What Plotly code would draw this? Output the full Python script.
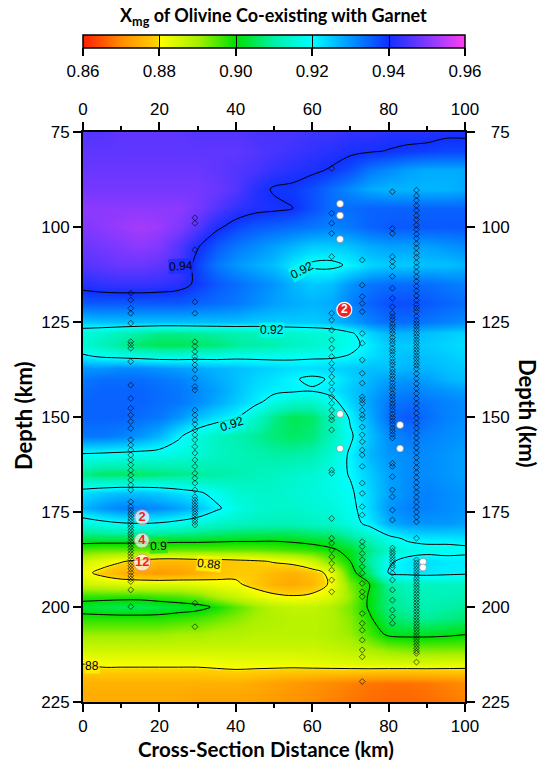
import numpy as np
import plotly.graph_objects as go

# ---------------- data ----------------
dist_km = [0, 5, 10, 15, 20, 25, 30, 35, 40, 45, 50, 55, 60, 65, 70, 75, 80, 85, 90, 95, 100]
depth_km = [75, 80, 85, 90, 95, 100, 105, 110, 115, 120, 125, 128, 131, 134, 137, 140, 143, 146,
            150, 155, 160, 165, 170, 174, 178, 182, 185, 188, 191, 194, 197, 200, 203, 207, 211,
            215, 220, 225]
# Xmg of olivine, per-mille (rows = depth, cols = distance)
xmg_permil = [
    [946, 946, 947, 947, 947, 947, 946, 946, 946, 945, 945, 945, 944, 944, 943, 943, 942, 942, 942, 941, 941],
    [947, 947, 947, 947, 947, 947, 947, 947, 947, 946, 945, 944, 943, 942, 941, 940.5, 939.8, 939, 938.5, 938, 938],
    [948, 948, 948, 948, 948, 948, 948, 947, 946, 945, 943, 942, 941, 939.5, 937, 933, 931, 929, 928, 928, 928],
    [949, 949, 949, 949, 949, 949, 949, 948, 946, 942, 939.5, 939, 937, 934, 931, 928, 927, 927, 927, 927, 928],
    [951, 951, 951, 951, 951, 951, 949, 946, 943, 941.5, 941, 940, 937, 934, 934, 935, 935, 935, 935, 935, 935],
    [950, 951, 952, 953, 952, 950, 946, 941, 938, 936, 935, 934, 933, 932, 933, 935, 936, 936, 936, 936, 936],
    [948, 949, 950, 951, 950, 946, 940.5, 936, 933, 931, 929, 927, 925, 925, 926, 928, 929, 929, 929, 930, 931],
    [946, 947, 948, 948, 947, 945, 938, 933, 930, 928, 926, 922, 919, 918.5, 921, 924, 925, 925, 926, 926, 927],
    [942, 943, 943.5, 943.5, 943, 942, 939, 936, 934, 932, 930, 927, 925, 926, 930, 933, 934, 934, 934, 933, 932],
    [936, 936, 936, 936, 936, 936, 935, 934, 933, 931, 929, 928, 927, 928, 932, 935, 937, 937, 936, 935, 934],
    [925, 926, 926, 926, 926, 926, 926, 926, 926, 925, 925, 925, 925, 926, 929, 932, 934, 934, 933, 932, 931],
    [916, 914, 912, 910, 908, 908, 909, 910, 911, 912, 913, 914, 915, 916, 919, 924, 927, 927, 926, 925, 924],
    [915, 912, 909, 906, 905, 905, 906, 907, 909, 910, 911, 913, 914, 916, 918, 922, 925, 925, 925, 924, 923],
    [921, 919, 918, 917, 916, 916, 917, 917, 918, 918, 918, 918.5, 919, 919, 920.5, 923, 925, 926, 926, 925, 924],
    [930, 930, 931, 931, 930, 929, 928, 927, 926, 925, 924, 923, 923, 924, 925, 926, 926, 927, 927, 926, 925],
    [933, 934, 934, 934, 933, 932, 930, 928, 926, 924, 922.5, 920.5, 919, 920.5, 924, 927, 929, 930, 929, 927, 926],
    [934, 935, 935, 935, 934, 933, 931, 929, 926, 923, 921.5, 921, 920.5, 922, 925, 928, 931, 932, 931, 930, 929],
    [935, 935, 935, 935, 934, 933, 931, 928, 925, 922, 917, 914, 914, 918, 924, 929, 933, 934, 933, 932, 931],
    [935, 935, 935, 934, 933, 930, 926, 923, 920.5, 914, 908, 905, 906, 912, 921, 928, 934, 936, 934, 932, 931],
    [933, 933, 932, 930, 927, 921, 916, 913, 911, 909, 907, 906, 907, 912, 919, 926, 931, 933, 932, 931, 930],
    [919, 918.5, 918, 917.5, 917, 916, 915, 913, 912, 911, 910, 910, 911, 915, 921, 927, 930, 931, 931, 930, 929],
    [908, 906, 906, 906, 907, 908, 909, 910, 911, 912, 913, 914, 915, 917, 920.5, 925, 929, 931, 931, 930, 929],
    [923, 925, 926, 926, 925, 923, 921, 918, 915, 914, 914, 915, 916, 917, 919, 924, 929, 931, 932, 931, 930],
    [927, 930, 932, 932, 931, 929, 926, 921, 917, 915, 914, 914, 915, 916, 918, 924, 930, 932, 932, 931, 930],
    [916, 918, 919.5, 920, 919.5, 918, 916, 914, 913, 912, 912, 912, 913, 914, 917, 922, 928, 930, 930, 930, 929],
    [904, 904, 904, 904, 903.5, 903, 903, 902.5, 902, 902, 901.5, 902, 903, 904, 908, 912, 918, 921, 922, 922, 922.5],
    [895, 894, 894, 894, 894, 894, 894, 894, 894, 894, 895, 896, 897, 899, 902, 908, 914, 917, 918, 918, 918.5],
    [886, 883, 880.5, 878, 876, 876, 877, 877, 878, 879, 880.5, 882, 886, 893, 900, 910, 919, 922, 923, 922, 922],
    [882, 878, 875, 873, 872, 873, 875, 877, 878.5, 878, 876, 875, 877, 882, 897, 907, 920.5, 921.5, 922, 921.5, 921],
    [886, 885, 884, 884, 884, 884, 883, 882, 881, 878, 875, 874, 876, 881, 893, 900, 910, 913, 913, 913, 913],
    [897, 897, 897, 897, 896, 895, 893, 889, 886, 883, 881, 880, 881, 884, 891, 901, 908, 911, 912, 912, 911],
    [903, 904, 905, 905, 904, 903, 902, 899, 895, 891, 888, 887, 887, 889, 893, 901, 908, 910, 911, 910, 909],
    [898, 898, 898, 898, 898, 897, 896, 894, 892, 890, 889, 888, 888, 889, 892, 899, 906, 908, 909, 908, 907],
    [891, 891, 891, 891, 891, 890, 890, 889, 889, 888, 888, 888, 888, 889, 891, 896, 901.5, 902, 902, 901.5, 900.5],
    [886, 886, 886, 886, 886, 886, 886, 886, 886, 886, 886, 886, 886, 887, 888, 890, 892, 893, 893, 893, 893],
    [880, 881, 881, 881, 881, 881, 881, 881.5, 882, 882, 882, 882, 882.5, 883, 883.5, 884, 884, 884, 884, 883.5, 883],
    [875, 875, 875, 875, 875, 875, 875, 875, 875, 874, 873, 872, 871, 870, 869, 868, 867.5, 867.5, 868, 869, 870],
    [874, 874, 874, 874, 874, 874, 873, 873, 873, 873, 872, 871, 870, 869, 868, 867, 866.5, 866.5, 867, 868, 869],
]

# sample positions (distance km, depths km)
colA_x = 12.5
colA_depth = [117.4, 119.2, 121.4, 122.7, 125.3, 130.2, 131.0, 131.9, 135.4, 141.6, 145.1, 147.7, 149.5,
              151.2, 153.0, 156.0, 157.4, 158.7, 160.0, 161.3, 162.6, 164.0, 165.3, 166.6, 167.9, 169.2,
              172.3, 173.6, 174.5, 175.3, 176.0, 176.8, 177.5, 178.3, 179.0, 179.8, 180.6, 181.3, 182.0,
              182.8, 183.5, 184.3, 185.1, 185.9, 186.7, 187.5, 188.4, 189.2, 190.0, 190.9, 191.8, 192.6,
              193.3, 195.5, 199.9]
colB_x = 29.3
colB_depth = [97.6, 99.0, 106.0, 119.7, 122.7, 130.2, 131.4, 132.8, 134.1, 135.0, 136.3, 137.6, 139.8,
              142.0, 142.9, 148.2, 149.5, 150.8, 151.9, 153.4, 154.7, 156.0, 157.8, 159.5, 161.3, 163.0,
              164.8, 166.1, 167.4, 169.2, 171.0, 171.8, 172.6, 173.4, 174.1, 174.8, 175.5, 176.2, 176.9,
              177.6, 178.4, 199.0, 205.2]
colC_x = 65.1
colC_depth = [84.6, 96.4, 99.0, 101.7, 107.8, 122.7, 124.5, 127.1, 129.7, 131.9, 134.1, 135.9, 137.6,
              139.4, 141.1, 142.9, 144.7, 146.4, 148.2, 149.9, 150.8, 153.4, 164.0, 164.8, 176.7, 181.9,
              183.2, 185.0, 186.8, 188.5, 190.3, 192.9, 196.0]
colD_x = 73.1
colD_depth = [108.7, 115.3, 118.3, 120.1, 122.3, 128.0, 130.6, 135.0, 138.5, 141.1, 144.7, 145.5, 146.4,
              148.2, 149.5, 150.4, 152.6, 154.7, 156.5, 158.7, 160.0, 163.0, 167.4, 170.1, 173.6, 175.8,
              182.8, 184.1, 185.9, 187.6, 189.4, 191.1, 193.8, 196.0, 197.3, 201.7, 204.3, 206.1, 208.7,
              211.3, 213.1, 219.6]
colE_x = 81.0
colE_depth = [90.7, 100.4, 101.7, 107.8, 109.1, 110.4, 113.0, 116.1, 118.8, 121.0, 122.7, 123.6, 124.4,
              125.5, 126.3, 127.2, 128.0, 129.1, 130.0, 130.8, 131.9, 132.7, 133.6, 134.6, 135.5, 136.3,
              137.4, 138.2, 139.1, 140.0, 141.0, 141.9, 142.7, 143.8, 144.6, 145.5, 146.5, 147.3, 148.2,
              149.2, 150.1, 151.0, 151.9, 152.9, 153.7, 154.6, 155.5, 162.2, 163.0, 165.7, 169.2, 171.0,
              174.5, 177.1, 184.5, 185.3, 186.0, 186.8, 187.6, 188.3, 189.0, 189.7, 191.1, 192.9, 195.5,
              198.2, 200.8, 202.6, 204.3]
colF_x = 87.3
colF_depth = [90.3, 91.8, 93.0, 94.4, 95.6, 97.0, 98.1, 99.5, 100.6, 101.9, 103.0, 104.4, 105.5, 106.9,
              108.0, 109.4, 110.5, 111.8, 113.1, 114.3, 115.6, 116.8, 118.1, 119.3, 120.4, 121.3, 122.2,
              123.5, 124.6, 125.4, 126.2, 127.1, 128.0, 128.8, 129.7, 130.5, 131.4, 132.2, 133.0, 133.9,
              134.7, 135.6, 136.4, 137.3, 138.6, 139.9, 141.2, 142.5, 143.8, 145.1, 146.4, 147.7, 149.0,
              150.3, 151.6, 152.9, 154.2, 155.5, 156.8, 158.1, 159.4, 160.7, 162.0, 163.3, 164.6, 165.9,
              167.2, 168.5, 169.8, 171.1, 172.4, 173.7, 175.0, 176.3, 177.6, 181.9, 187.6, 188.4, 189.2,
              190.0, 190.8, 191.6, 192.4, 193.2, 194.0, 194.8, 195.6, 196.4, 197.2, 198.0, 198.8, 199.6,
              200.4, 201.2, 202.0, 202.8, 203.6, 204.4, 205.2, 206.0, 206.8, 207.6, 208.4, 209.2, 210.0,
              210.8, 211.6, 212.2, 214.5]
sample_cols = [(colA_x, colA_depth), (colB_x, colB_depth), (colC_x, colC_depth),
               (colD_x, colD_depth), (colE_x, colE_depth), (colF_x, colF_depth)]

white_x = [67.3, 67.3, 67.3, 67.3, 67.3, 83.0, 83.0, 89.0, 89.0]
white_depth = [93.9, 97.0, 103.2, 149.2, 158.3, 152.1, 158.3, 188.1, 189.6]

count_x = [68.4, 15.5, 15.4, 15.5]
count_depth = [121.8, 176.4, 182.5, 188.3]
count_text = ["2", "2", "4", "12"]

# contour label positions (distance, depth, text, angle)
clabel_x = [25.7, 57.4, 49.5, 39.0, 19.7, 33.0, 0.2]
clabel_depth = [110.2, 111.3, 127.0, 151.8, 183.9, 188.8, 215.6]
clabel_text = ["0.94", "0.92", "0.92", "0.92", "0.9", "0.88", "88"]
clabel_angle = [-3, -28, 0, -18, -2, 6, 0]
clabel_level = [0.94, 0.92, 0.92, 0.92, 0.90, 0.88, 0.88]

cbar_ticks = [0.86, 0.88, 0.90, 0.92, 0.94, 0.96]
x_ticks = [0, 20, 40, 60, 80, 100]
y_ticks = [75, 100, 125, 150, 175, 200, 225]
y_ticklabels = ["75", "100", "125", "150", "175", "200", "225"]

# ---------------- figure ----------------
z = np.array(xmg_permil, dtype=float) / 1000.0

colorscale = [
    [0.0, '#ff1e00'], [0.1, '#ff8c00'], [0.195, '#ffd200'], [0.2, '#ffff00'],
    [0.3, '#a8f000'], [0.4, '#00e000'], [0.5, '#00f0a8'], [0.6, '#00ffff'],
    [0.7, '#0096ff'], [0.8, '#1030ff'], [0.9, '#8038ff'], [1.0, '#ff40f0'],
]
level_bg = {0.88: 'rgba(250,246,0,0.8)', 0.90: 'rgba(40,226,20,0.8)',
            0.92: 'rgba(0,250,240,0.8)', 0.94: 'rgba(24,48,255,0.8)'}

tickfont = dict(family='Liberation Sans, Arial, sans-serif', size=17, color='black')
titlefont = dict(family='Lato, sans-serif', size=22, color='black')

fig = go.Figure()

fig.add_trace(go.Contour(
    x=dist_km, y=depth_km, z=z,
    zmin=0.86, zmax=0.96, zauto=False,
    colorscale=colorscale,
    contours=dict(coloring='heatmap', start=0.88, end=0.94, size=0.02, showlabels=False),
    line=dict(color='black', width=1, smoothing=1.0),
    colorbar=dict(
        orientation='h', x=0.5, xanchor='center', len=1.0, lenmode='fraction',
        y=1.1702, yanchor='top', yref='paper', thickness=13, xpad=0, ypad=0,
        outlinecolor='black', outlinewidth=1.5,
        tickmode='array', tickvals=cbar_ticks, ticktext=[f"{v:.2f}" for v in cbar_ticks],
        ticks='outside', ticklen=8, tickwidth=1.5, tickcolor='black',
        tickfont=tickfont,
    ),
    hoverinfo='skip',
))

for cx, cd in sample_cols:
    fig.add_trace(go.Scatter(
        x=[cx] * len(cd), y=cd, mode='markers',
        marker=dict(symbol='diamond-open', size=4.5, color='rgba(0,0,0,0.6)',
                    line=dict(width=1, color='rgba(0,0,0,0.6)')),
        hoverinfo='skip', showlegend=False,
    ))

fig.add_trace(go.Scatter(
    x=white_x, y=white_depth, mode='markers',
    marker=dict(symbol='circle', size=7, color='white', line=dict(width=0.6, color='#777777')),
    hoverinfo='skip', showlegend=False,
))

fig.add_trace(go.Scatter(
    x=count_x[:1], y=count_depth[:1], mode='markers+text', text=count_text[:1],
    textposition='middle center',
    textfont=dict(family='Liberation Sans, Arial', size=12, color='white', weight='bold'),
    marker=dict(symbol='circle', size=15, color='#ee2222', line=dict(width=1.2, color='white')),
    hoverinfo='skip', showlegend=False,
))
fig.add_trace(go.Scatter(
    x=count_x[1:], y=count_depth[1:], mode='markers+text', text=count_text[1:],
    textposition='middle center',
    textfont=dict(family='Liberation Sans, Arial', size=13, color='#ff1a1a', weight='bold'),
    marker=dict(symbol='circle', size=[15, 15, 17], color='white', line=dict(width=1, color='#f08080')),
    hoverinfo='skip', showlegend=False,
))

# invisible trace to materialise the mirrored axes
fig.add_trace(go.Scatter(x=[50], y=[150], xaxis='x2', yaxis='y2', mode='markers',
                         marker=dict(opacity=0), hoverinfo='skip', showlegend=False))

axis_common = dict(ticks='outside', ticklen=8, tickwidth=1.5, tickcolor='black',
                   showline=True, linecolor='black', linewidth=2, showgrid=False,
                   zeroline=False, tickfont=tickfont)

right_ticktext = ["\u00a0\u00a0" + t if len(t) == 2 else t for t in y_ticklabels]

fig.update_layout(
    width=540, height=762,
    margin=dict(l=83, r=75, t=132, b=60),
    paper_bgcolor='white', plot_bgcolor='white',
    showlegend=False,
    xaxis=dict(range=[0, 100], tickmode='array', tickvals=x_ticks, side='bottom',
               minor=dict(dtick=10, ticklen=4, tickwidth=1.5, tickcolor='black', ticks='outside'),
               **axis_common),
    xaxis2=dict(range=[0, 100], tickmode='array', tickvals=x_ticks, side='top',
                overlaying='x', anchor='y',
                minor=dict(dtick=10, ticklen=4, tickwidth=1.5, tickcolor='black', ticks='outside'),
                **axis_common),
    yaxis=dict(range=[225, 75], tickmode='array', tickvals=y_ticks, ticktext=y_ticklabels,
               side='left', **axis_common),
    yaxis2=dict(range=[225, 75], tickmode='array', tickvals=y_ticks, ticktext=right_ticktext,
                side='right', overlaying='y', anchor='x', ticklabelstandoff=3, **axis_common),
)

# contour labels
for lx, ld, lt, la, lv in zip(clabel_x, clabel_depth, clabel_text, clabel_angle, clabel_level):
    fig.add_annotation(x=lx, y=ld, xref='x', yref='y', text=lt, textangle=la, showarrow=False,
                       xanchor='left' if lt == "88" else 'center', yanchor='middle',
                       bgcolor=level_bg[lv], borderpad=0,
                       font=dict(family='Liberation Sans, Arial', size=12, color='black'))

# colorbar dividers
for f in [0.2, 0.4, 0.6, 0.8]:
    fig.add_shape(type='line', xref='paper', yref='paper', x0=f, x1=f,
                  y0=(702 - 48) / 570, y1=(702 - 35) / 570,
                  line=dict(color='black', width=1.5))

annos = [
    dict(text='<b>Depth (km)</b>', x=(23 - 83) / 382, y=(702 - 416) / 570, textangle=-90, size=22),
    dict(text='<b>Depth (km)</b>', x=(528 - 83) / 382, y=(702 - 413) / 570, textangle=90, size=22),
    dict(text='<b>Cross-Section Distance (km)</b>', x=(266 - 83) / 382, y=(702 - 749) / 570,
         textangle=0, size=20.5),
]
for a in annos:
    sz = a.pop('size')
    fig.add_annotation(xref='paper', yref='paper', showarrow=False,
                       xanchor='center', yanchor='middle',
                       font=dict(family='Lato, sans-serif', size=sz, color='black'), **a)

fig.add_annotation(xref='paper', yref='paper', showarrow=False, xanchor='center', yanchor='middle',
                   x=(273 - 83) / 382, y=(702 - 16) / 570,
                   text='<b>X<sub>mg</sub> of Olivine Co-existing with Garnet</b>',
                   font=dict(family='Lato, sans-serif', size=18, color='black'))

fig.write_html("out.html")
